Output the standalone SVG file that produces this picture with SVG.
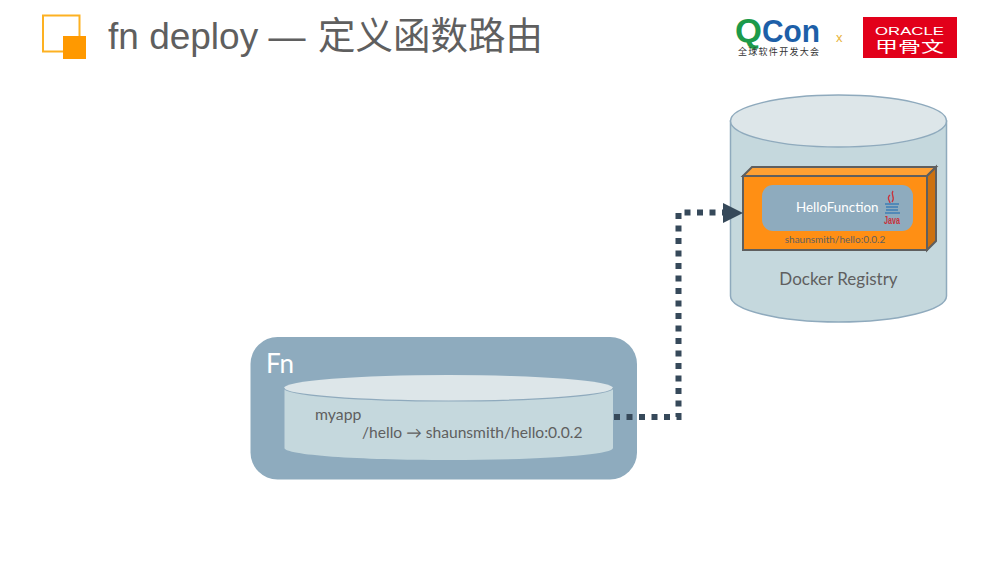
<svg xmlns="http://www.w3.org/2000/svg" width="1000" height="563" viewBox="0 0 1000 563">
<style>
.t{font-family:"Lato","Open Sans","Noto Sans CJK SC",sans-serif;fill:#5f5f5f}
.a{font-family:"Liberation Sans","Noto Sans CJK SC",sans-serif}
</style>
<rect width="1000" height="563" fill="#fff"/>
<g id="title-mark">
<rect x="43" y="15.500" width="36.500" height="36" fill="#fff" stroke="#fdb122" stroke-width="2"/>
<rect x="63" y="36" width="23" height="23" fill="#ff9900"/>
</g>
<text id="title" class="a" x="108" y="49" font-size="37" fill="#5f5f5f">fn deploy — <tspan x="318" font-size="37.500">定义函数路由</tspan></text>
<g id="qcon-logo">
<text class="a" x="735" y="42" font-size="34" font-weight="700" fill="#1c9a4a" textLength="27" lengthAdjust="spacingAndGlyphs">Q</text>
<text class="a" x="762" y="42" font-size="32" font-weight="700" fill="#1d5fa8" textLength="58" lengthAdjust="spacingAndGlyphs">Con</text>
<text class="a" x="738" y="55" font-size="9" fill="#333" textLength="81">全球软件开发大会</text>
</g>
<text id="logo-x" class="a" x="836" y="42" font-size="13" fill="#e8b33a">x</text>
<g id="oracle-logo">
<rect x="863" y="17" width="94" height="41" fill="#e2001a"/>
<text class="a" x="875" y="35" font-size="11" fill="#fff" textLength="69" lengthAdjust="spacingAndGlyphs">ORACLE</text>
<text class="a" x="875" y="52" font-size="15" fill="#fff" textLength="69" lengthAdjust="spacingAndGlyphs">甲骨文</text>
</g>
<g id="docker-registry">
<path d="M730.500 121V296C730.500 310 779 322 838.500 322S946.500 310 946.500 296V121Z" fill="#c5d8dd" stroke="#8faabd" stroke-width="1.500"/>
<ellipse cx="838.500" cy="121" rx="108" ry="26" fill="#dde6e9" stroke="#8faabd" stroke-width="1.500"/>
<text class="t" x="838.500" y="285" font-size="17" text-anchor="middle">Docker Registry</text>
</g>
<g id="hello-function">
<path d="M743 176L752 167H936L927 176Z" fill="#ffa033" stroke="#5f5f5f" stroke-width="2"/>
<path d="M927 176L936 167V241L927 250Z" fill="#cc7110" stroke="#5f5f5f" stroke-width="2"/>
<rect x="743" y="176" width="184" height="74" fill="#ff8f14" stroke="#5f5f5f" stroke-width="2"/>
<rect x="762" y="185" width="151" height="46" rx="11" fill="#8eabbe"/>
<text x="796" y="212" font-size="13.400" fill="#fff" style="font-family:Lato,sans-serif">HelloFunction</text>
<path d="M893 191C890 195 896 197 892 202M890 195C886 198 890 201 890 203" fill="none" stroke="#c8323c" stroke-width="1.300"/>
<path d="M885 204H899M886 207H898M886 210H898M885 213H900" fill="none" stroke="#3f7fb5" stroke-width="1.300"/>
<text x="892" y="224" font-size="10.500" font-weight="700" fill="#c8323c" text-anchor="middle" style="font-family:'Liberation Sans',sans-serif" textLength="16" lengthAdjust="spacingAndGlyphs">Java</text>
<text class="t" x="835" y="243" font-size="10" text-anchor="middle">shaunsmith/hello:0.0.2</text>
</g>
<g id="fn">
<rect x="250.500" y="337" width="386.500" height="142.500" rx="27" fill="#8eabbe"/>
<text x="266" y="373" font-size="26" fill="#fff" style="font-family:Lato,sans-serif">Fn</text>
<path d="M284.500 388V448C284.500 455 358 460 448.500 460S613 455 613 448V388Z" fill="#c5d8dd"/>
<ellipse cx="448.500" cy="388" rx="164.500" ry="13" fill="#dde6e9"/>
<path d="M284 388C284 395 358 401 448.500 401S613 395 613 388" fill="none" stroke="#8faabd" stroke-width="1.200"/>
<text class="t" x="315" y="420" font-size="15.800">myapp</text>
<text class="t" x="362" y="438" font-size="15.600">/hello → shaunsmith/hello:0.0.2</text>
</g>
<g id="connectors">
<path d="M614 417H678.500V212.500H726" fill="none" stroke="#36495a" stroke-width="6" stroke-dasharray="6 6.500"/>
<path d="M743 213L723 203V223Z" fill="#36495a"/>
</g>
</svg>
